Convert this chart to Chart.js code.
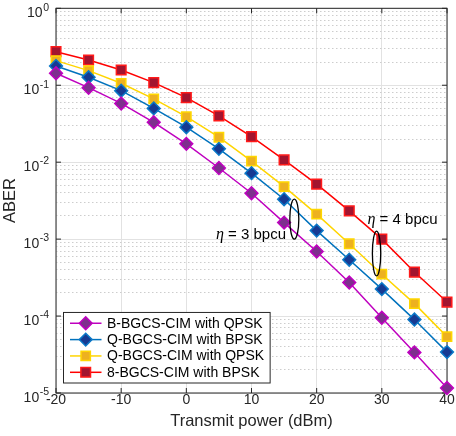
<!DOCTYPE html>
<html>
<head>
<meta charset="utf-8">
<script src="https://cdn.jsdelivr.net/npm/chart.js@4.4.1/dist/chart.umd.min.js"></script>
<style>
html,body{margin:0;padding:0;background:#ffffff;}
#wrap{width:456px;height:436px;}
</style>
</head>
<body>
<div id="wrap"><canvas id="c" width="456" height="436"></canvas></div>
<script>
// ---- data ----
const transmitPower = [-20, -15, -10, -5, 0, 5, 10, 15, 20, 25, 30, 35, 40];
const seriesNames = ['B-BGCS-CIM with QPSK', 'Q-BGCS-CIM with BPSK', 'Q-BGCS-CIM with QPSK', '8-BGCS-CIM with BPSK'];
const aberBBgcsQpsk = [0.143, 0.093, 0.058, 0.033, 0.0173, 0.0084, 0.00395, 0.00164, 0.00069, 0.000273, 0.000095, 0.0000337, 0.0000116];
const aberQBgcsBpsk = [0.178, 0.127, 0.085, 0.050, 0.0285, 0.0149, 0.0072, 0.0033, 0.00129, 0.00054, 0.000224, 0.000090, 0.000034];
const aberQBgcsQpsk = [0.209, 0.155, 0.106, 0.0664, 0.039, 0.0211, 0.0103, 0.00482, 0.00211, 0.00087, 0.00035, 0.000145, 0.000054];
const aber8BgcsBpsk = [0.273, 0.213, 0.158, 0.108, 0.069, 0.040, 0.0215, 0.0107, 0.00518, 0.00233, 0.0010, 0.000373, 0.000152];
const xTickValues = [-20, -10, 0, 10, 20, 30, 40];
const xTickLabels = ['-20', '-10', '0', '10', '20', '30', '40'];
const yDecades = [-5, -4, -3, -2, -1, 0];
const yTickBase = '10';
const yTickExponents = ['-5', '-4', '-3', '-2', '-1', '0'];
const annotationTexts = ['\u03B7', ' = 3 bpcu', ' = 4 bpcu'];

// ---- styles ----
const FONT = '"Liberation Sans", Arial, Helvetica, sans-serif';
const AXIS_COLOR = '#262626';
const styles = [
  {line: '#bf00bf', fill: '#7e2f8e', edge: '#c000c0', shape: 'rectRot', r: 6.4},
  {line: '#0072bd', fill: '#173a92', edge: '#0a78c8', shape: 'rectRot', r: 6.4},
  {line: '#ffd500', fill: '#edb120', edge: '#ffd700', shape: 'rect', r: 6.6},
  {line: '#ff0000', fill: '#a2142f', edge: '#ff1a1a', shape: 'rect', r: 6.8}
];
const seriesValues = [aberBBgcsQpsk, aberQBgcsBpsk, aberQBgcsQpsk, aber8BgcsBpsk];

const datasets = seriesValues.map((vals, i) => ({
  label: seriesNames[i],
  data: transmitPower.map((x, k) => ({x: x, y: vals[k]})),
  borderColor: styles[i].line,
  borderWidth: 1.5,
  backgroundColor: styles[i].fill,
  pointStyle: styles[i].shape,
  pointRadius: styles[i].r,
  pointHoverRadius: styles[i].r,
  pointBackgroundColor: styles[i].fill,
  pointBorderColor: styles[i].edge,
  pointBorderWidth: 1.5,
  tension: 0,
  fill: false,
  clip: false
}));

// annotation placement (data units)
const annotationSpecs = [
  {text: annotationTexts[1], x: 15.3, y: 1.15e-3, align: 'right', ex: 16.57, ey: 1.82e-3, erx: 0.69, ery: 0.26},
  {text: annotationTexts[2], x: 27.8, y: 1.8e-3, align: 'left', ex: 29.19, ey: 6.5e-4, erx: 0.64, ery: 0.29}
];

const decor = {
  id: 'decor',
  beforeDatasetsDraw(chart) {
    const ctx = chart.ctx, ca = chart.chartArea;
    const xs = chart.scales.x, ys = chart.scales.y;
    ctx.save();
    ctx.strokeStyle = AXIS_COLOR;
    ctx.lineWidth = 1;
    ctx.strokeRect(ca.left, ca.top, ca.right - ca.left, ca.bottom - ca.top);
    const tl = 5;
    ctx.beginPath();
    xTickValues.forEach(v => {
      const px = xs.getPixelForValue(v);
      ctx.moveTo(px, ca.bottom); ctx.lineTo(px, ca.bottom - tl);
      ctx.moveTo(px, ca.top); ctx.lineTo(px, ca.top + tl);
    });
    yDecades.forEach(e => {
      const py = ys.getPixelForValue(Math.pow(10, e));
      ctx.moveTo(ca.left, py); ctx.lineTo(ca.left + tl, py);
      ctx.moveTo(ca.right, py); ctx.lineTo(ca.right - tl, py);
    });
    ctx.stroke();

    // y tick labels: base "10" with raised exponent
    ctx.fillStyle = AXIS_COLOR;
    ctx.textBaseline = 'middle';
    ctx.textAlign = 'right';
    const rightEdge = ca.left - 7;
    yDecades.forEach((e, i) => {
      const py = ys.getPixelForValue(Math.pow(10, e));
      ctx.font = '10.5px ' + FONT;
      const expTxt = yTickExponents[i];
      const wExp = ctx.measureText(expTxt).width;
      ctx.fillText(expTxt, rightEdge, py - 0.6);
      ctx.font = '14px ' + FONT;
      ctx.fillText(yTickBase, rightEdge - wExp - 0.5, py + 5);
    });
    ctx.restore();
  },
  afterDatasetsDraw(chart) {
    const ctx = chart.ctx, ca = chart.chartArea;
    const xs = chart.scales.x, ys = chart.scales.y;
    ctx.save();
    // annotations
    annotationSpecs.forEach(a => {
      const cx = xs.getPixelForValue(a.ex);
      const rx = xs.getPixelForValue(a.ex + a.erx) - cx;
      const cy = ys.getPixelForValue(a.ey);
      const ry = cy - ys.getPixelForValue(a.ey * Math.pow(10, a.ery));
      ctx.beginPath();
      ctx.ellipse(cx, cy, rx, ry, 0, 0, Math.PI * 2);
      ctx.strokeStyle = '#000000';
      ctx.lineWidth = 1.3;
      ctx.stroke();

      const etaFont = 'italic 16px "Liberation Serif", "DejaVu Serif", serif';
      const txtFont = '15px ' + FONT;
      ctx.font = etaFont; const wEta = ctx.measureText(annotationTexts[0]).width;
      ctx.font = txtFont; const wTxt = ctx.measureText(a.text).width;
      let tx = xs.getPixelForValue(a.x);
      const ty = ys.getPixelForValue(a.y);
      if (a.align === 'right') tx -= (wEta + wTxt);
      ctx.fillStyle = '#000000';
      ctx.textBaseline = 'middle';
      ctx.textAlign = 'left';
      ctx.font = etaFont; ctx.fillText(annotationTexts[0], tx, ty);
      ctx.font = txtFont; ctx.fillText(a.text, tx + wEta, ty);
    });

    // legend
    const rowH = 16.35;
    const boxL = ca.left + 7.5;
    const boxB = ca.bottom - 10;
    const boxH = rowH * (seriesNames.length - 1) + 21.5;
    const boxT = boxB - boxH;
    ctx.font = '14px ' + FONT;
    let maxW = 0;
    seriesNames.forEach(n => { maxW = Math.max(maxW, ctx.measureText(n).width); });
    const textX = boxL + 43.5;
    const boxW = textX + maxW + 6 - boxL;
    ctx.fillStyle = '#ffffff';
    ctx.fillRect(boxL, boxT, boxW, boxH);
    ctx.strokeStyle = AXIS_COLOR;
    ctx.lineWidth = 1;
    ctx.strokeRect(boxL, boxT, boxW, boxH);
    seriesNames.forEach((n, i) => {
      const yy = boxT + 10.8 + i * rowH;
      ctx.beginPath();
      ctx.moveTo(boxL + 6.5, yy); ctx.lineTo(boxL + 38, yy);
      ctx.strokeStyle = styles[i].line; ctx.lineWidth = 1.5; ctx.stroke();
      ctx.fillStyle = styles[i].fill;
      ctx.strokeStyle = styles[i].edge;
      ctx.lineWidth = 1.5;
      Chart.helpers.drawPoint(ctx, {pointStyle: styles[i].shape, radius: styles[i].r, rotation: 0, borderWidth: 1.5}, boxL + 22.2, yy);
      ctx.fillStyle = '#000000';
      ctx.font = '14px ' + FONT;
      ctx.textAlign = 'left';
      ctx.textBaseline = 'middle';
      ctx.fillText(n, textX, yy + 0.5);
    });
    ctx.restore();
  }
};

Chart.defaults.font.family = FONT;
Chart.defaults.color = AXIS_COLOR;

new Chart(document.getElementById('c'), {
  type: 'line',
  data: {datasets: datasets},
  options: {
    responsive: false,
    animation: false,
    devicePixelRatio: 1,
    layout: {padding: {top: 8, right: 9, left: 0, bottom: 0}},
    plugins: {legend: {display: false}, tooltip: {enabled: false}},
    scales: {
      x: {
        type: 'linear',
        min: -20, max: 40,
        afterBuildTicks: (s) => { s.ticks = xTickValues.map(v => ({value: v})); },
        afterFit: (s) => { s.height = 43; s.paddingLeft = 0; s.paddingRight = 0; },
        ticks: {
          autoSkip: false, maxRotation: 0, padding: -1,
          font: {size: 14}, color: AXIS_COLOR,
          callback: (v) => xTickLabels[xTickValues.indexOf(v)]
        },
        grid: {color: '#e2e2e2', lineWidth: 1, drawTicks: false},
        border: {display: false},
        title: {display: true, text: 'Transmit power (dBm)', font: {size: 16.5}, color: AXIS_COLOR, padding: {top: 0, bottom: 5}}
      },
      y: {
        type: 'logarithmic',
        min: 1e-5, max: 1,
        afterBuildTicks: (s) => {
          const t = [];
          yDecades.forEach(e => {
            for (let m = 1; m <= 9; m++) {
              const v = m * Math.pow(10, e);
              if (v <= 1.0000001) t.push({value: v, major: m === 1});
            }
          });
          s.ticks = t;
        },
        afterFit: (s) => { s.width = 56; s.paddingTop = 0; s.paddingBottom = 0; },
        ticks: {display: false, autoSkip: false},
        grid: {
          color: (c) => (c.tick && c.tick.major) ? '#e2e2e2' : '#cdcdcd',
          lineWidth: 1,
          drawTicks: false
        },
        border: {
          display: false,
          dash: (c) => (c.tick && !c.tick.major) ? [1.5, 2.5] : []
        },
        title: {display: true, text: 'ABER', font: {size: 16.5}, color: AXIS_COLOR, padding: {top: 1, bottom: 0}}
      }
    }
  },
  plugins: [decor]
});
</script>
</body>
</html>
